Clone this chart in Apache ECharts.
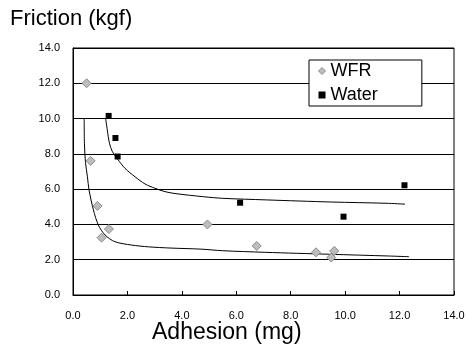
<!DOCTYPE html>
<html>
<head>
<meta charset="utf-8">
<script src="https://cdn.jsdelivr.net/npm/echarts@6/dist/echarts.min.js"></script>
<style>html,body{margin:0;padding:0;background:#fff;}#c{width:468px;height:344px;}</style>
</head>
<body>
<div id="c"></div>
<script>
var xTicks = [0, 2, 4, 6, 8, 10, 12, 14];
var yTicks = [0, 2, 4, 6, 8, 10, 12, 14];
var wfrPoints = [[0.5, 12.0], [0.65, 7.6], [0.9, 5.05], [1.32, 3.74], [1.05, 3.25], [4.94, 4.0], [6.75, 2.78], [8.93, 2.42], [9.6, 2.5], [9.49, 2.12]];
var waterPoints = [[1.31, 10.15], [1.56, 8.9], [1.64, 7.85], [6.14, 5.23], [9.94, 4.44], [12.18, 6.22]];
var wfrTrend = [[0.41, 10.0], [0.42, 8.6], [0.46, 7.5], [0.53, 6.7], [0.59, 5.95], [0.75, 4.82], [0.93, 3.97], [1.18, 3.4], [1.54, 3.02], [2.16, 2.83], [2.77, 2.73], [3.6, 2.66], [4.7, 2.6], [5.5, 2.51], [7.05, 2.42], [9.4, 2.31], [11.6, 2.21], [12.35, 2.17]];
var waterTrend = [[1.2, 10.0], [1.26, 9.35], [1.34, 8.6], [1.45, 8.12], [1.64, 7.7], [1.91, 7.18], [2.28, 6.7], [2.65, 6.29], [3.01, 6.05], [3.38, 5.86], [3.75, 5.75], [4.8, 5.57], [5.5, 5.48], [7.1, 5.39], [9.5, 5.27], [11.5, 5.2], [12.2, 5.15]];

var chart = echarts.init(document.getElementById('c'));
var font = 'Arial, "Liberation Sans", sans-serif';
chart.setOption({
  animation: false,
  backgroundColor: '#fff',
  grid: { left: 73, right: 14, top: 48, bottom: 49, show: true, borderColor: '#000', borderWidth: 1, backgroundColor: 'transparent' },
  legend: {
    orient: 'vertical', left: 309, top: 60,
    backgroundColor: '#fff', borderColor: '#000', borderWidth: 1,
    padding: [2, 44, 2, 9], itemGap: 6, itemWidth: 7, itemHeight: 7,
    textStyle: { fontFamily: font, fontSize: 18, color: '#000', lineHeight: 18 },
    data: [
      { name: 'WFR', icon: 'diamond', itemStyle: { color: '#bdbdbd', borderColor: '#8c8c8c', borderWidth: 1 } },
      { name: 'Water', icon: 'rect', itemStyle: { color: '#000' } }
    ]
  },
  xAxis: {
    type: 'value', min: xTicks[0], max: xTicks[xTicks.length - 1], interval: 2,
    axisLine: { lineStyle: { color: '#000', width: 1 } },
    axisTick: { show: true, inside: true, length: 4, lineStyle: { color: '#000' } },
    splitLine: { show: false },
    axisLabel: { color: '#000', fontFamily: font, fontSize: 11, margin: 15, formatter: function (v) { return v.toFixed(1); } }
  },
  yAxis: {
    type: 'value', min: yTicks[0], max: yTicks[yTicks.length - 1], interval: 2,
    axisLine: { show: true, lineStyle: { color: '#000', width: 1 } },
    axisTick: { show: false },
    splitLine: { show: true, lineStyle: { color: '#000', width: 1 } },
    axisLabel: { color: '#000', fontFamily: font, fontSize: 11, margin: 13, formatter: function (v) { return v.toFixed(1); } }
  },
  graphic: [
    { type: 'text', left: 10, top: 8, style: { text: 'Friction (kgf)', font: '22px ' + font, fill: '#000' } },
    { type: 'text', left: 152, top: 321, style: { text: 'Adhesion (mg)', font: '23px ' + font, fill: '#000' } }
  ],
  series: [
    { name: 'WFR trend', type: 'line', data: wfrTrend, showSymbol: false, symbol: 'none', smooth: 0.3, lineStyle: { color: '#000', width: 1 }, silent: true, z: 2 },
    { name: 'Water trend', type: 'line', data: waterTrend, showSymbol: false, symbol: 'none', smooth: 0.3, lineStyle: { color: '#000', width: 1 }, silent: true, z: 2 },
    { name: 'WFR', type: 'scatter', data: wfrPoints, symbol: 'diamond', symbolSize: 9, itemStyle: { color: '#bdbdbd', borderColor: '#8c8c8c', borderWidth: 1, opacity: 1 }, z: 3 },
    { name: 'Water', type: 'scatter', data: waterPoints, symbol: 'rect', symbolSize: 6, itemStyle: { color: '#000', opacity: 1 }, z: 3 }
  ]
});
</script>
</body>
</html>
